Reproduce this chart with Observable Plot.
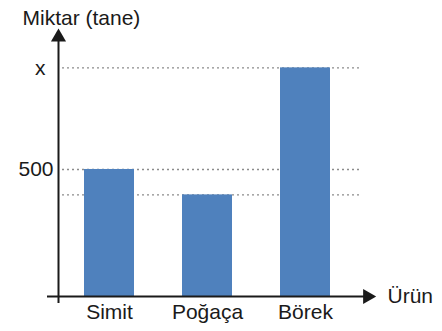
<!DOCTYPE html>
<html><head><meta charset="utf-8">
<script src="https://cdn.jsdelivr.net/npm/d3@7"></script>
<script src="https://cdn.jsdelivr.net/npm/@observablehq/plot@0.6"></script>
<style>body{margin:0;background:#fff}</style>
</head><body><div id="chart"></div>
<script>
const products = ["Simit", "Poğaça", "Börek"];
const amounts = [500, 400, 900];
const yTickValues = [900, 500];
const yTickLabels = ["x", "500"];
const yLabel = "Miktar (tane)";
const xLabel = "Ürün";

const data = products.map((p, i) => ({product: p, amount: amounts[i]}));
const yTicks = yTickValues.map((v, i) => ({value: v, label: yTickLabels[i]}));

const W = 442, H = 331, ML = 58, MR = 87, MT = 28, MB = 35;
const font = "'Liberation Sans', Arial, sans-serif";
const ink = "#1a1a1a";
const fs = 21;

const chart = Plot.plot({
  width: W, height: H,
  marginLeft: ML, marginRight: MR, marginTop: MT, marginBottom: MB,
  style: {fontFamily: font, fontSize: fs + "px", color: ink, background: "white", overflow: "visible"},
  x: {domain: products, paddingInner: 0.49, paddingOuter: 0.26, label: null, axis: null},
  y: {domain: [0, 1055], label: null, axis: null},
  marks: [
    Plot.ruleY(amounts, {stroke: "#8c8c8c", strokeWidth: 1.3, strokeDasharray: "2,3", insetLeft: 4, insetRight: -5}),
    Plot.barY(data, {x: "product", y: "amount", fill: "#4f81bd"}),
    Plot.axisX({tickSize: 0, tickPadding: 8, fontSize: fs, label: null, fill: ink}),
    Plot.ruleY([0], {stroke: ink, strokeWidth: 2, insetLeft: -11, insetRight: -12}),
    Plot.ruleX([0], {x: null, stroke: ink, strokeWidth: 2, dx: -(W - ML - MR) / 2, insetTop: 9, insetBottom: -7}),
    Plot.dot([0], {frameAnchor: "top-left", symbol: "triangle", r: 5.6, fill: ink, stroke: "none", dy: 8.7}),
    Plot.dot([0], {y: d => d, frameAnchor: "right", symbol: "triangle", rotate: 90, r: 5.6, fill: ink, stroke: "none", dx: 12}),
    Plot.text(yTicks, {filter: d => d.label === "x", y: "value", text: "label", frameAnchor: "left", textAnchor: "end", dx: -13, fontSize: fs, fill: ink}),
    Plot.text(yTicks, {filter: d => d.label !== "x", y: "value", text: "label", frameAnchor: "left", textAnchor: "end", dx: -5, fontSize: fs, fill: ink}),
    Plot.text([yLabel], {text: d => d, frameAnchor: "top-left", textAnchor: "start", lineAnchor: "bottom", dx: -36, dy: -4, fontSize: fs, fill: ink}),
    Plot.text([xLabel], {text: d => d, frameAnchor: "bottom-right", textAnchor: "start", lineAnchor: "middle", dx: 32, fontSize: fs, fill: ink})
  ]
});
document.getElementById("chart").appendChild(chart);
</script>
</body></html>
